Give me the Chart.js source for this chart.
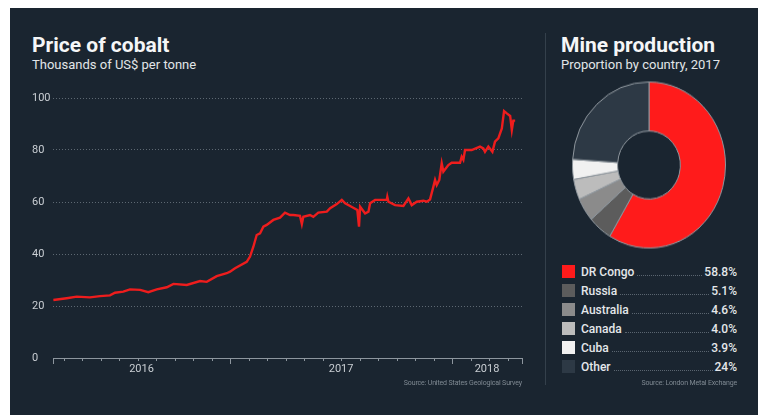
<!DOCTYPE html>
<html lang="en">
<head>
<meta charset="UTF-8">
<title>Cobalt price and mine production</title>
<script src="https://cdn.jsdelivr.net/npm/chart.js@4.4.1/dist/chart.umd.min.js"></script>
<style>
    * { margin: 0; padding: 0; box-sizing: border-box; }
    body { width: 758px; height: 415px; background: #ffffff; overflow: hidden; font-family: Roboto, "Liberation Sans", sans-serif; }

    .panel { position: absolute; left: 10px; top: 8px; width: 748px; height: 407px; background: #1a2530; }

    .title { position: absolute; color: #f5f6f7; font-size: 21px; font-weight: 700; line-height: 1; }
    .subtitle { position: absolute; color: #e2e5e8; font-size: 13px; line-height: 1; }
    .source { position: absolute; color: #7f8992; font-size: 7px; line-height: 1; text-align: right; letter-spacing: -0.15px; }

    .divider { position: absolute; left: 545px; top: 33px; width: 1px; height: 352px; background: #34404b; }

    #priceBox { position: absolute; left: 32px; top: 90px; width: 500px; height: 290px; }
    #shareBox { position: absolute; left: 572px; top: 88px; width: 154px; height: 154px; transform: scaleY(1.085); }

    #legend { position: absolute; left: 562px; top: 262px; width: 175px; }
    .row { display: flex; align-items: center; height: 19px; color: #e4e7ea; font-size: 12px; font-weight: 500; }
    .swatch { width: 13px; height: 13px; margin-right: 6px; flex: none; }
    .leader { flex: 1; align-self: flex-end; margin: 0 2px 5px 3px; border-bottom: 1px dotted #5a6570; }
</style>
</head>
<body>
<div class="panel"></div>

<div class="title" style="left:32px; top:35px;">Price of cobalt</div>
<div class="subtitle" style="left:32px; top:58px;">Thousands of US$ per tonne</div>

<div class="title" style="left:561px; top:35px;">Mine production</div>
<div class="subtitle" style="left:561px; top:58px;">Proportion by country, 2017</div>

<div class="divider"></div>

<div id="priceBox"><canvas id="priceChart"></canvas></div>
<div id="shareBox"><canvas id="shareChart"></canvas></div>
<div id="legend"></div>

<div class="source" style="right:236px; top:380px;">Source: United States Geological Survey</div>
<div class="source" style="right:21px; top:380px;">Source: London Metal Exchange</div>

<script>
    // Cobalt price, thousands of US$ per tonne.
    // x = months since 1 Jan 2016 (12 = Jan 2017, 24 = Jan 2018)
    const months = [2.45, 3.17, 3.71, 4.43, 4.97, 5.51, 5.78, 6.23, 6.59, 7.14,
        7.58, 8.04, 8.58, 8.94, 9.66, 10.38, 10.74, 11.28, 11.82, 12.0,
        12.27, 12.90, 13.08, 13.26, 13.44, 13.62, 13.80, 13.98, 14.34, 14.70,
        14.97, 15.24, 15.42, 15.78, 15.88, 15.96, 16.32, 16.50, 16.77, 17.23,
        17.41, 17.77, 18.04, 18.22, 18.66, 18.88, 18.97, 19.03, 19.30, 19.48,
        19.57, 19.84, 20.47, 20.50, 20.56, 20.92, 21.37, 21.64, 21.82, 22.09,
        22.45, 22.63, 22.81, 22.99, 23.08, 23.17, 23.31, 23.44, 23.53, 23.80,
        23.98, 24.43, 24.52, 24.61, 24.70, 25.06, 25.51, 25.69, 25.78, 25.96,
        26.18, 26.32, 26.50, 26.69, 26.81, 26.96, 27.14, 27.23, 27.31, 27.41];
    const prices = [22.3, 23.0, 23.6, 23.3, 23.8, 24.1, 25.1, 25.5, 26.4, 26.2,
        25.3, 26.4, 27.2, 28.5, 28.1, 29.6, 29.3, 31.5, 32.6, 33.2,
        34.5, 37.0, 39.0, 42.8, 47.3, 47.9, 50.5, 51.2, 53.1, 54.0,
        55.9, 55.0, 55.0, 54.7, 51.5, 54.3, 55.0, 54.3, 55.9, 56.3,
        57.6, 59.2, 60.8, 59.5, 57.8, 56.9, 50.5, 58.2, 55.6, 56.3,
        59.5, 60.8, 60.8, 62.0, 60.1, 58.8, 58.5, 61.4, 58.8, 60.1,
        60.5, 60.1, 61.0, 65.9, 68.5, 66.5, 68.5, 74.9, 71.7, 74.2,
        75.1, 75.1, 77.4, 76.2, 80.0, 80.0, 81.3, 80.6, 79.3, 81.3,
        79.3, 83.2, 84.5, 88.3, 95.0, 94.1, 93.1, 87.7, 91.3, 91.3];

    // axis range and ticks
    const xMin = 2.43, xMax = 27.78;
    const monthTicks = [3, 4, 5, 6, 7, 8, 9, 10, 11, 12, 13, 14, 15, 16, 17, 18, 19, 20, 21, 22, 23, 24, 25, 26, 27];
    const yearTicks = [12, 24];
    const yearLabels = ['2016', '2017', '2018'];
    const yTicks = [0, 20, 40, 60, 80, 100];

    // Mine production shares, 2017
    const countries = ['DR Congo', 'Russia', 'Australia', 'Canada', 'Cuba', 'Other'];
    const shares = [58.8, 5.1, 4.6, 4.0, 3.9, 24];
    const shareLabels = ['58.8%', '5.1%', '4.6%', '4.0%', '3.9%', '24%'];
    const shareColors = ['#ff1b1b', '#5c5c5c', '#8b8b8b', '#bcbcbc', '#f1f1f1', '#2d3945'];

    const tickText = '#c9ced3';
    const axisColor = '#8d969e';

    // year labels sit in the middle of each year's stretch of axis
    const bounds = [xMin, ...yearTicks, xMax];
    const labelPos = yearLabels.map((_, i) => (bounds[i] + bounds[i + 1]) / 2);

    // small monthly tick marks under the x axis, longer ones at year starts and ends
    const axisTicks = {
        id: 'axisTicks',
        afterDraw(chart) {
            const { ctx, scales: { x }, chartArea } = chart;
            const y0 = chartArea.bottom;
            ctx.save();
            ctx.strokeStyle = axisColor;
            ctx.lineWidth = 1;
            const mark = (v, len) => {
                const px = Math.round(x.getPixelForValue(v)) + 0.5;
                ctx.beginPath();
                ctx.moveTo(px, y0);
                ctx.lineTo(px, y0 + len);
                ctx.stroke();
            };
            monthTicks.forEach(m => mark(m, yearTicks.includes(m) ? 6 : 3));
            mark(xMin, 6);
            mark(xMax, 6);
            ctx.restore();
        }
    };

    new Chart(document.getElementById('priceChart'), {
        type: 'line',
        data: {
            datasets: [{
                data: months.map((m, i) => ({ x: m, y: prices[i] })),
                borderColor: '#ee1d1d',
                borderWidth: 2.4,
                pointRadius: 0,
                tension: 0
            }]
        },
        options: {
            responsive: true,
            maintainAspectRatio: false,
            animation: false,
            events: [],
            layout: { padding: { left: 0, right: 10, top: 8, bottom: 0 } },
            plugins: { legend: { display: false }, tooltip: { enabled: false } },
            scales: {
                x: {
                    type: 'linear',
                    min: xMin,
                    max: xMax,
                    afterBuildTicks: scale => { scale.ticks = labelPos.map(v => ({ value: v })); },
                    afterFit: scale => { scale.height = 22; },
                    grid: { display: false, drawTicks: false },
                    border: { display: true, color: axisColor, width: 1 },
                    ticks: {
                        autoSkip: false,
                        maxRotation: 0,
                        padding: 5,
                        color: tickText,
                        font: { family: 'Roboto', size: 11 },
                        callback: (v, i) => yearLabels[i]
                    }
                },
                y: {
                    min: 0,
                    max: 100,
                    afterBuildTicks: scale => { scale.ticks = yTicks.map(v => ({ value: v })); },
                    afterFit: scale => { scale.width = 21; },
                    border: { display: false, dash: [1, 2] },
                    grid: {
                        drawTicks: false,
                        color: c => c.tick && c.tick.value === 0 ? 'rgba(0,0,0,0)' : '#5d6872',
                        lineWidth: 1
                    },
                    ticks: {
                        crossAlign: 'far',
                        padding: 0,
                        color: tickText,
                        font: { family: 'Roboto', size: 11 }
                    }
                }
            }
        },
        plugins: [axisTicks]
    });

    new Chart(document.getElementById('shareChart'), {
        type: 'doughnut',
        data: {
            labels: countries,
            datasets: [{
                data: shares,
                backgroundColor: shareColors,
                borderColor: '#8f979e',
                borderWidth: 1
            }]
        },
        options: {
            responsive: true,
            maintainAspectRatio: false,
            animation: false,
            events: [],
            cutout: '41%',
            plugins: { legend: { display: false }, tooltip: { enabled: false } }
        }
    });

    // legend with dotted leaders
    const legend = document.getElementById('legend');
    countries.forEach((name, i) => {
        const row = document.createElement('div');
        row.className = 'row';
        row.innerHTML = `
            <span class="swatch" style="background:${shareColors[i]}"></span>
            <span>${name}</span>
            <span class="leader"></span>
            <span>${shareLabels[i]}</span>`;
        legend.appendChild(row);
    });
</script>
</body>
</html>
